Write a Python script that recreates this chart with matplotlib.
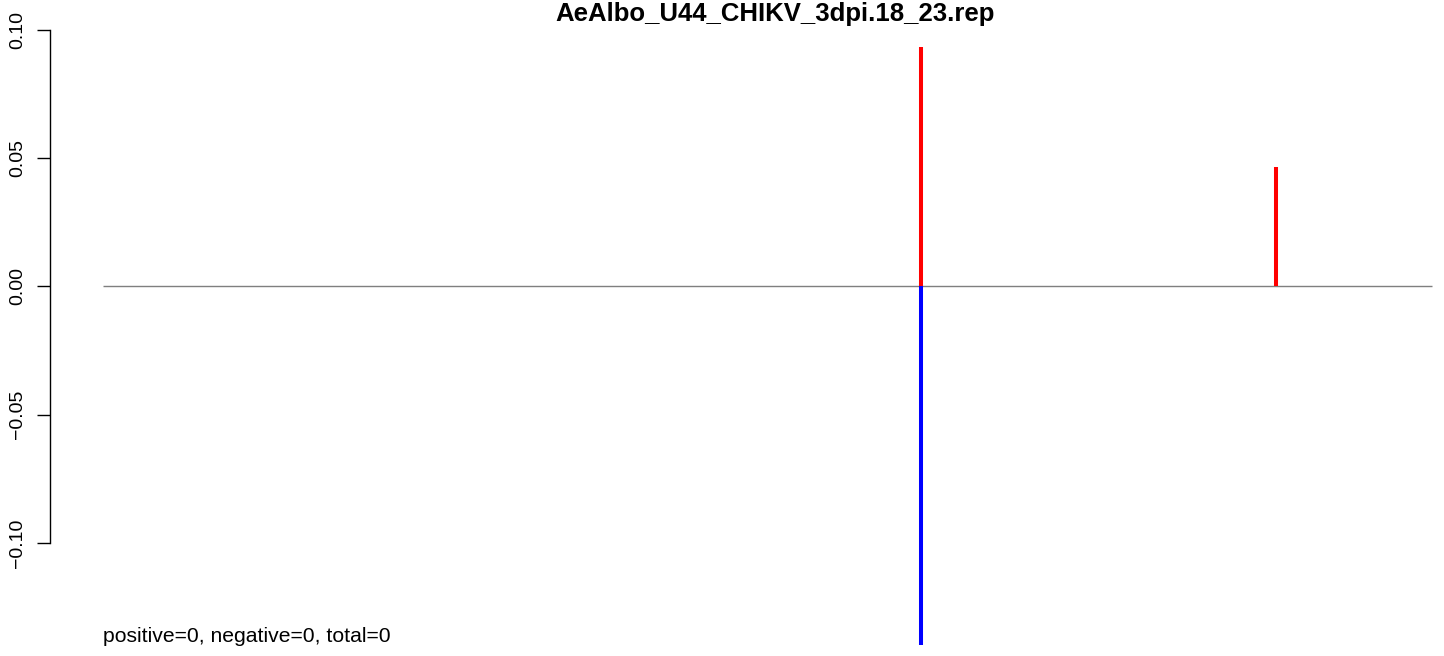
import matplotlib
matplotlib.use("Agg")
import matplotlib.pyplot as plt
import matplotlib.transforms as mtransforms

plt.rcParams['font.family'] = ['Liberation Sans', 'DejaVu Sans']

# ---- data ----
title = "AeAlbo_U44_CHIKV_3dpi.18_23.rep"
x_range = [1, 1330]                 # extent of the zero line (positions)
pos_x = [819, 1174]                 # positive bars
pos_y = [0.0932, 0.0465]
neg_x = [819]                       # negative bars
neg_y = [-0.1397]
yticks = [-0.10, -0.05, 0.00, 0.05, 0.10]
ytick_labels = ["\u22120.10", "\u22120.05", "0.00", "0.05", "0.10"]
note = "positive=0, negative=0, total=0"

W, H, DPI = 1444, 656, 100
fig = plt.figure(figsize=(W / DPI, H / DPI), dpi=DPI)

# axes from spine pixel 50 to right edge, full height
ax = fig.add_axes([50 / W, 0, 1 - 50 / W, 1])

px0, px1 = 103, 1432
scale = (x_range[1] - x_range[0]) / (px1 - px0)
ax.set_xlim(x_range[0] - (px0 - 50) * scale, x_range[1] + (W - px1) * scale)
zero_px, ppu = 286.3, 2567.5
ax.set_ylim(-(H - zero_px) / ppu, zero_px / ppu)

ax.plot(x_range, [0, 0], color="#7f7f7f", lw=1.0, solid_capstyle="butt")
ax.vlines(pos_x, 0, pos_y, colors="#ff0000", lw=2.9)
ax.vlines(neg_x, neg_y, 0, colors="#0000ff", lw=2.9)

for s in ["top", "right", "bottom"]:
    ax.spines[s].set_visible(False)
ax.spines["left"].set_bounds(-0.10, 0.10)
ax.spines["left"].set_linewidth(1.0)
ax.set_xticks([])
ax.set_yticks(yticks)
ax.set_yticklabels(ytick_labels, rotation=90, va="center", fontsize=14)
ax.tick_params(axis="y", length=9.4, width=1.0, pad=8, direction="out")

trans = mtransforms.blended_transform_factory(ax.transData, fig.transFigure)
ax.text(x_range[0], 1 - 642 / H, note, transform=trans, ha="left",
        va="baseline", fontsize=15.25)

fig.text(775 / W, 1 - 21 / H, title, ha="center", va="baseline",
         fontsize=18.5, fontweight="bold")

fig.savefig("out.png", dpi=DPI)
